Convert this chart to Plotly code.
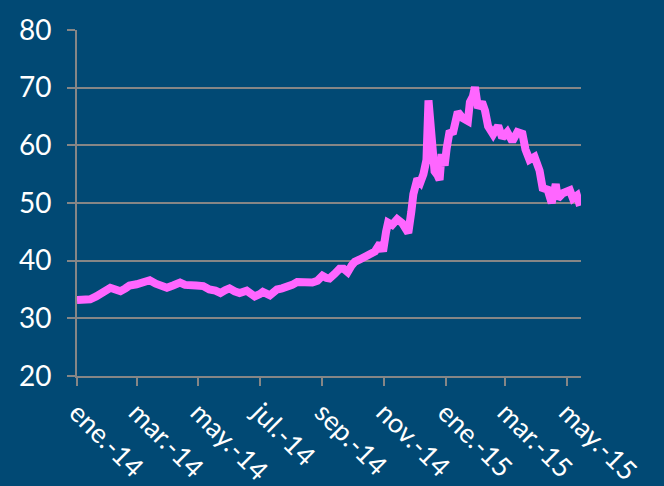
import plotly.graph_objects as go

# Daily-ish closing values, Jan 2014 - May 2015
dates = [
    "2014-01-01", "2014-01-08", "2014-01-14", "2014-01-20", "2014-01-26",
    "2014-02-03", "2014-02-08", "2014-02-13", "2014-02-18", "2014-02-22",
    "2014-03-01", "2014-03-08", "2014-03-14", "2014-03-20", "2014-03-26",
    "2014-03-31", "2014-04-06", "2014-04-13", "2014-04-18", "2014-04-23",
    "2014-04-29", "2014-05-06", "2014-05-12", "2014-05-18", "2014-05-23",
    "2014-05-28", "2014-06-01", "2014-06-06", "2014-06-11", "2014-06-18",
    "2014-06-22", "2014-06-26", "2014-07-01", "2014-07-04", "2014-07-11",
    "2014-07-18", "2014-07-23", "2014-07-28", "2014-08-02", "2014-08-07",
    "2014-08-12", "2014-08-17", "2014-08-22", "2014-08-27", "2014-09-01",
    "2014-09-05", "2014-09-08", "2014-09-13", "2014-09-18", "2014-09-22",
    "2014-09-26", "2014-09-30", "2014-10-03", "2014-10-08", "2014-10-15",
    "2014-10-20", "2014-10-23", "2014-10-28", "2014-10-31", "2014-11-03",
    "2014-11-05", "2014-11-09", "2014-11-14", "2014-11-19", "2014-11-25",
    "2014-11-28", "2014-11-30", "2014-12-04", "2014-12-07", "2014-12-10",
    "2014-12-13", "2014-12-15", "2014-12-17", "2014-12-18", "2014-12-21",
    "2014-12-24", "2014-12-26", "2014-12-28", "2014-12-31", "2015-01-02",
    "2015-01-05", "2015-01-08", "2015-01-11", "2015-01-13", "2015-01-18",
    "2015-01-23", "2015-01-25", "2015-01-28", "2015-01-30", "2015-02-02",
    "2015-02-06", "2015-02-09", "2015-02-12", "2015-02-17", "2015-02-22",
    "2015-02-26", "2015-03-03", "2015-03-08", "2015-03-13", "2015-03-18",
    "2015-03-21", "2015-03-25", "2015-03-30", "2015-04-04", "2015-04-07",
    "2015-04-12", "2015-04-16", "2015-04-20", "2015-04-22", "2015-04-27",
    "2015-05-04", "2015-05-07", "2015-05-11", "2015-05-14",
]
values = [
    33.2, 33.1, 33.3, 33.8, 34.6,
    35.3, 35.0, 34.7, 35.2, 35.7,
    35.9, 36.3, 36.6, 36.0, 35.6,
    35.3, 35.7, 36.2, 35.8, 35.9,
    35.7, 35.6, 35.0, 34.8, 34.4,
    34.9, 35.2, 34.7, 34.4, 34.8,
    34.4, 33.8, 34.2, 34.6, 34.0,
    35.0, 35.2, 35.4, 35.8, 36.3,
    36.2, 36.3, 36.2, 36.5, 37.4,
    37.0, 36.9, 37.7, 38.6, 38.6,
    38.0, 39.2, 39.8, 40.2, 40.9,
    41.3, 41.6, 43.0, 41.6, 45.0,
    46.6, 46.2, 47.2, 46.5, 44.8,
    48.5, 51.5, 54.2, 53.6, 55.0,
    57.5, 67.8, 62.0, 59.5, 55.5,
    54.8, 54.0, 58.5, 56.5, 59.5,
    62.5, 62.0, 64.0, 65.8, 64.7,
    64.2, 67.5, 68.5, 70.1, 66.5,
    67.5, 66.0, 63.3, 61.9, 63.4,
    61.3, 62.3, 60.7, 62.3, 62.0,
    59.3, 57.5, 58.0, 55.6, 52.6,
    52.3, 50.0, 53.3, 50.8, 51.7,
    52.2, 50.8, 51.3, 49.5,
]

# Axis ticks
x_tick_vals = ["2014-01-01", "2014-03-01", "2014-05-01", "2014-07-01", "2014-09-01",
               "2014-11-01", "2015-01-01", "2015-03-01", "2015-05-01"]
x_tick_text = ["ene.-14", "mar.-14", "may.-14", "jul.-14", "sep.-14",
               "nov.-14", "ene.-15", "mar.-15", "may.-15"]
y_tick_vals = [20, 30, 40, 50, 60, 70, 80]

BG = "#014974"
GRID = "#868686"
FONT = "Lato"

fig = go.Figure(
    go.Scatter(
        x=dates, y=values, mode="lines",
        line=dict(color="#FF66FF", width=8, shape="linear"),
        hoverinfo="x+y",
    )
)

fig.update_layout(
    width=664, height=486,
    margin=dict(l=77, r=83, t=30, b=110),
    paper_bgcolor=BG, plot_bgcolor=BG,
    showlegend=False,
    font=dict(family=FONT, color="white", size=24),
)

fig.update_xaxes(
    type="date",
    range=["2014-01-01", "2015-05-15"],
    tickmode="array", tickvals=x_tick_vals, ticktext=x_tick_text,
    tickangle=45,
    ticks="outside", ticklen=8, tickwidth=2, tickcolor=GRID,
    showline=True, linecolor=GRID, linewidth=2,
    showgrid=False, zeroline=False,
    automargin=False,
    tickfont=dict(family=FONT, size=27, color="white"),
)

fig.update_yaxes(
    range=[20, 80],
    tickmode="array", tickvals=y_tick_vals,
    ticks="outside", ticklen=8, tickwidth=2, tickcolor=GRID,
    showline=True, linecolor=GRID, linewidth=2,
    showgrid=True, gridcolor=GRID, gridwidth=2,
    zeroline=False,
    automargin=False,
    ticklabelstandoff=10,
    tickfont=dict(family=FONT, size=28, color="white"),
)

fig.write_html("out.html")
